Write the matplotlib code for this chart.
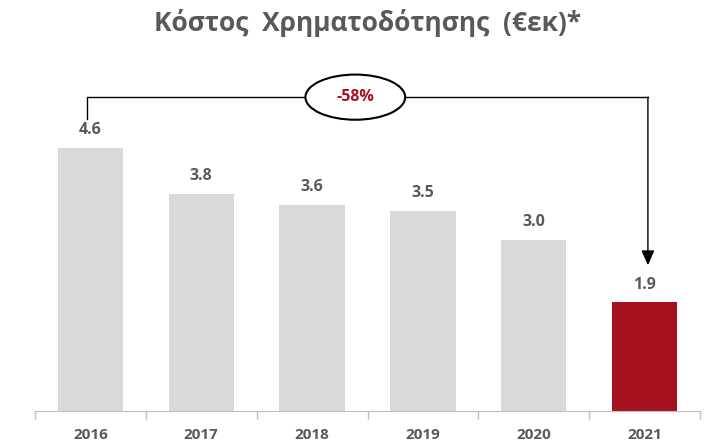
import matplotlib.pyplot as plt
from matplotlib.patches import Ellipse

years = ['2016', '2017', '2018', '2019', '2020', '2021']
values = [4.6, 3.8, 3.6, 3.5, 3.0, 1.9]
change_label = '-58%'

grey = '#d9d9d9'
red = '#a6111f'
txt = '#595959'

plt.rcParams['font.family'] = ['Open Sans', 'DejaVu Sans']

fig = plt.figure(figsize=(7.06, 4.43), dpi=100)
ax = fig.add_axes([35/706, 1 - 411/443, 665/706, 351/443])

x = range(len(years))
colors = [grey] * (len(values) - 1) + [red]
bars = ax.bar(x, values, width=0.59, color=colors)

for xi, v in zip(x, values):
    ax.annotate('%.1f' % v, (xi, v), xytext=(0, 7), textcoords='offset points',
                ha='center', va='bottom', fontsize=11.5, fontweight='bold', color=txt)

ax.set_xlim(-0.5, len(years) - 0.5)
ax.set_ylim(0, 6.14)
ax.set_xticks(list(x))
ax.set_xticklabels(years, fontsize=11, fontweight='bold', color=txt)
ax.tick_params(axis='x', which='major', length=0, pad=12)
ax.set_xticks([i - 0.5 for i in range(len(years) + 1)], minor=True)
ax.tick_params(axis='x', which='minor', length=6, color='#bfbfbf', width=1)
ax.set_yticks([])
for s in ['top', 'right', 'left']:
    ax.spines[s].set_visible(False)
ax.spines['bottom'].set_color('#bfbfbf')

# bracket from first to last bar
y_top = 5.49
x_left, x_right = -0.03, 5.03
ax.plot([x_left, x_left, x_right], [5.10, y_top, y_top], color='black', lw=1, clip_on=False)
ax.annotate('', xy=(x_right, 2.55), xytext=(x_right, y_top),
            arrowprops=dict(arrowstyle='-|>,head_width=0.4,head_length=0.9',
                            color='black', lw=1, shrinkA=0, shrinkB=0))

ell = Ellipse((2.39, y_top), 0.9, 0.79, facecolor='white', edgecolor='black', lw=1.5, zorder=5)
ax.add_patch(ell)
ax.text(2.39, y_top, change_label, ha='center', va='center', fontsize=11.5,
        fontweight='bold', color=red, zorder=6)

fig.text(0.52, 0.948, 'Κόστος  Χρηματοδότησης  (€εκ)*', ha='center', va='center',
         fontsize=19, fontweight='bold', color=txt)

fig.savefig('out.png', dpi=100)
